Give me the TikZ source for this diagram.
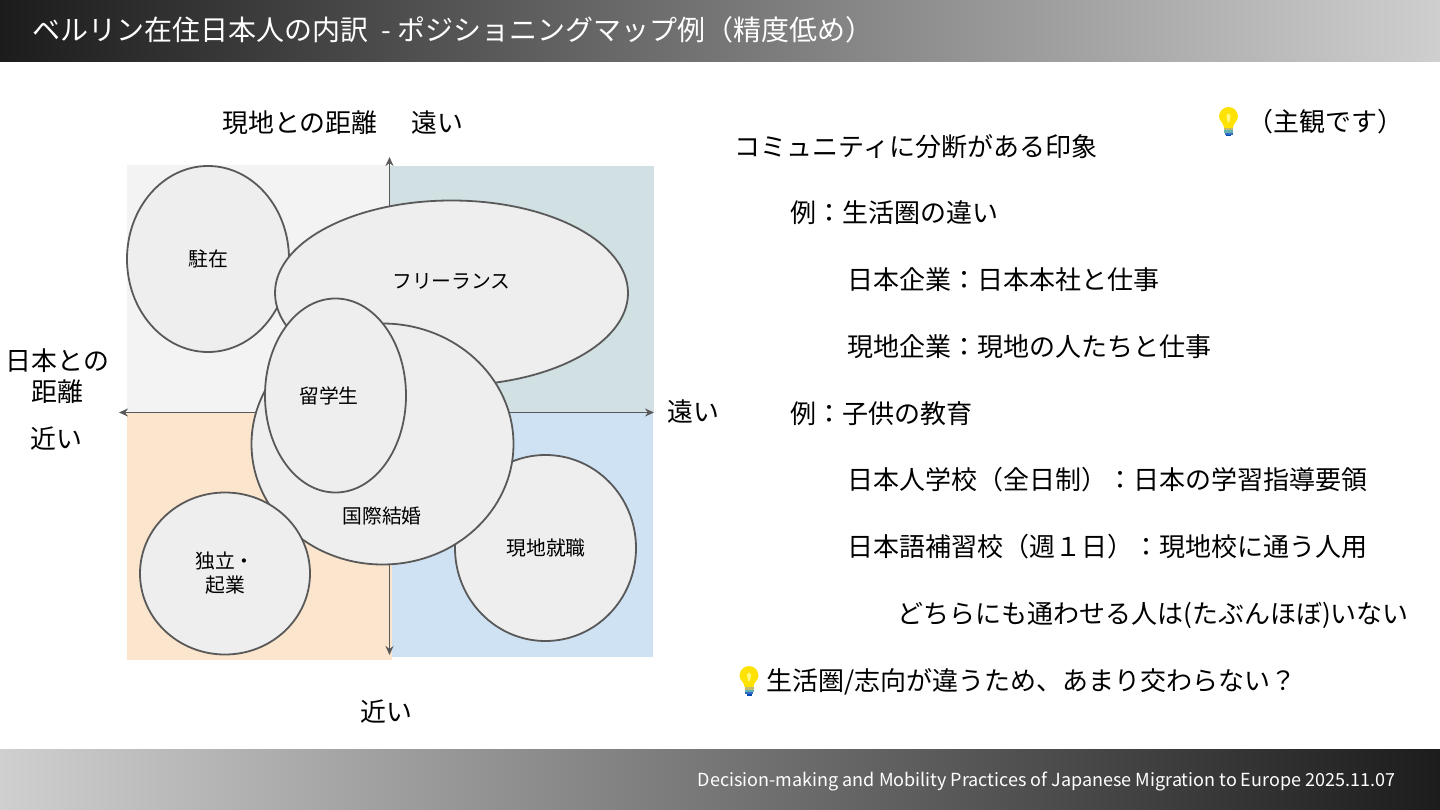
\documentclass[tikz,border=0pt]{standalone}
\usepackage{xcolor}
\usepackage{fontspec}
\setmainfont{Noto Sans CJK JP}
\usetikzlibrary{shapes.geometric, arrows.meta, positioning}

\definecolor{barDark}{HTML}{1C1C1C}
\definecolor{barLight}{HTML}{CFCFCF}
\definecolor{lineGray}{HTML}{595959}
\definecolor{blobFill}{HTML}{EEEEEE}
\definecolor{quadGray}{HTML}{F3F3F3}
\definecolor{quadTeal}{HTML}{D0E0E3}
\definecolor{quadOrange}{HTML}{FCE5CD}
\definecolor{quadBlue}{HTML}{CFE2F3}

\begin{document}
\begin{tikzpicture}[x=1pt, y=-1pt]
    % Define styles
    \tikzstyle{blob} = [ellipse, draw=lineGray, fill=blobFill, line width=1.8pt, inner sep=0pt]
    \tikzstyle{blobtext} = [align=center, text=black, font=\fontsize{19.8}{24}\selectfont, inner sep=0pt]
    \tikzstyle{axistext} = [align=center, text=black, font=\fontsize{25.9}{31}\selectfont, inner sep=0pt]
    \tikzstyle{bodytext} = [anchor=west, text=black, font=\fontsize{26}{31}\selectfont, inner sep=0pt]
    \tikzstyle{quad} = [draw=none, minimum width=263pt, inner sep=0pt, anchor=north west]
    \tikzstyle{arrow} = [{Stealth[length=9pt, width=8pt]}-{Stealth[length=9pt, width=8pt]}, draw=lineGray, line width=1.5pt]
    \tikzset{
        bulb/.pic={
            \fill[yellow!85!orange] (-4.5,6) .. controls (-4.5,1) and (-9.5,-1) .. (-9.5,-5)
                .. controls (-9.5,-11) and (-5,-15) .. (0,-15)
                .. controls (5,-15) and (9.5,-11) .. (9.5,-5)
                .. controls (9.5,-1) and (4.5,1) .. (4.5,6) -- cycle;
            \fill[yellow!50!white] (-2,-6) .. controls (-2,-9) and (2,-9) .. (2,-6)
                .. controls (2,-3) and (1,0) .. (0,1) .. controls (-1,0) and (-2,-3) .. (-2,-6) -- cycle;
            \fill[yellow!60!black!70!white] (-4.5,6) rectangle (4.5,8.5);
            \fill[teal!60!white] (-4.5,8.5) rectangle (4.5,11);
            \fill[blue!45!teal!80!white] (-4,11) rectangle (4,13);
            \fill[blue!45!teal] (-2.5,13) rectangle (2.5,14.5);
        }
    }

    \useasboundingbox (0,0) rectangle (1440,810);
    \fill[white] (0,0) rectangle (1440,810);

    % Title and footer bars
    \node[anchor=north west, minimum width=1440pt, minimum height=61.5pt, inner sep=0pt, left color=barDark, right color=barLight] (titlebar) at (0,0) {};
    \node[anchor=north west, minimum width=1440pt, minimum height=61pt, inner sep=0pt, left color=barLight, right color=barDark] (footbar) at (0,749) {};
    \node[anchor=west, text=white, inner sep=0pt, font=\fontsize{28}{32}\selectfont] (title) at (32,30) {ベルリン在住日本人の内訳\hspace{7pt} - ポジショニングマップ例（精度低め）};
    \node[anchor=east, text=white, inner sep=0pt, font=\fontsize{18}{22}\selectfont] (foot) at (1395.5,781) {Decision-making and Mobility Practices of Japanese Migration to Europe 2025.11.07};

    % Quadrants
    \node[quad, fill=quadGray, minimum height=247pt] (qtl) at (127,165) {};
    \node[quad, fill=quadTeal, minimum width=264pt, minimum height=246pt] (qtr) at (390,166) {};
    \node[quad, fill=quadBlue, minimum height=245pt] (qbr) at (390,412) {};
    \node[quad, fill=quadOrange, minimum width=264.5pt, minimum height=248pt] (qbl) at (127,412) {};

    % Axes
    \coordinate (top) at (389.5,157);
    \coordinate (bottom) at (389.5,655);
    \coordinate (left) at (119,412.5);
    \coordinate (right) at (654,412.5);
    \draw[arrow] (top) -- (bottom);
    \draw[arrow] (left) -- (right);

    % Groups
    \node[blob, minimum width=162pt, minimum height=186pt] (chuzai) at (208,259) {};
    \node[blob, minimum width=353pt, minimum height=185pt] (free) at (451.5,293) {};
    \node[blob, minimum width=181pt, minimum height=186pt] (shushoku) at (545.5,548) {};
    \node[blob, minimum width=262pt, minimum height=241pt] (kekkon) at (382.5,444) {};
    \node[blob, minimum width=141pt, minimum height=194pt] (ryugaku) at (335.5,395.5) {};
    \node[blob, minimum width=170pt, minimum height=162pt] (kigyo) at (225,573.5) {};

    \node[blobtext] (chuzaitext) at (208,259) {駐在};
    \node[blobtext] (freetext) at (451.5,281) {フリーランス};
    \node[blobtext] (shushokutext) at (546,548) {現地就職};
    \node[blobtext] (kekkontext) at (382,516) {国際結婚};
    \node[blobtext] (ryugakutext) at (329,396) {留学生};
    \node[blobtext] (kigyotext) at (225,573) {独立・\\起業};

    % Axis labels
    \node[axistext] (topname) at (300,123) {現地との距離};
    \node[axistext] (topfar) at (437,123) {遠い};
    \node[axistext] (leftname) at (57.5,376) {日本との\\距離};
    \node[axistext] (leftnear) at (56,439) {近い};
    \node[axistext] (rightfar) at (693,412) {遠い};
    \node[axistext] (bottomnear) at (386,712) {近い};

    % Right column
    \pic at (1228.5,122) {bulb};
    \node[bodytext] (note) at (1247,122) {（主観です）};
    \node[bodytext] (line1) at (734.5,147) {コミュニティに分断がある印象};
    \node[bodytext] (line2) at (790,213) {例：生活圏の違い};
    \node[bodytext] (line3) at (847.5,280) {日本企業：日本本社と仕事};
    \node[bodytext] (line4) at (847.5,347) {現地企業：現地の人たちと仕事};
    \node[bodytext] (line5) at (790,413.5) {例：子供の教育};
    \node[bodytext] (line6) at (847.5,480) {日本人学校（全日制）：日本の学習指導要領};
    \node[bodytext] (line7) at (847.5,547) {日本語補習校（週１日）：現地校に通う人用};
    \node[bodytext] (line8) at (897,615) {どちらにも通わせる人は(たぶんほぼ)いない};
    \pic at (749,681) {bulb};
    \node[bodytext] (line9) at (766,681.5) {生活圏/志向が違うため、あまり交わらない？};
\end{tikzpicture}
\end{document}
